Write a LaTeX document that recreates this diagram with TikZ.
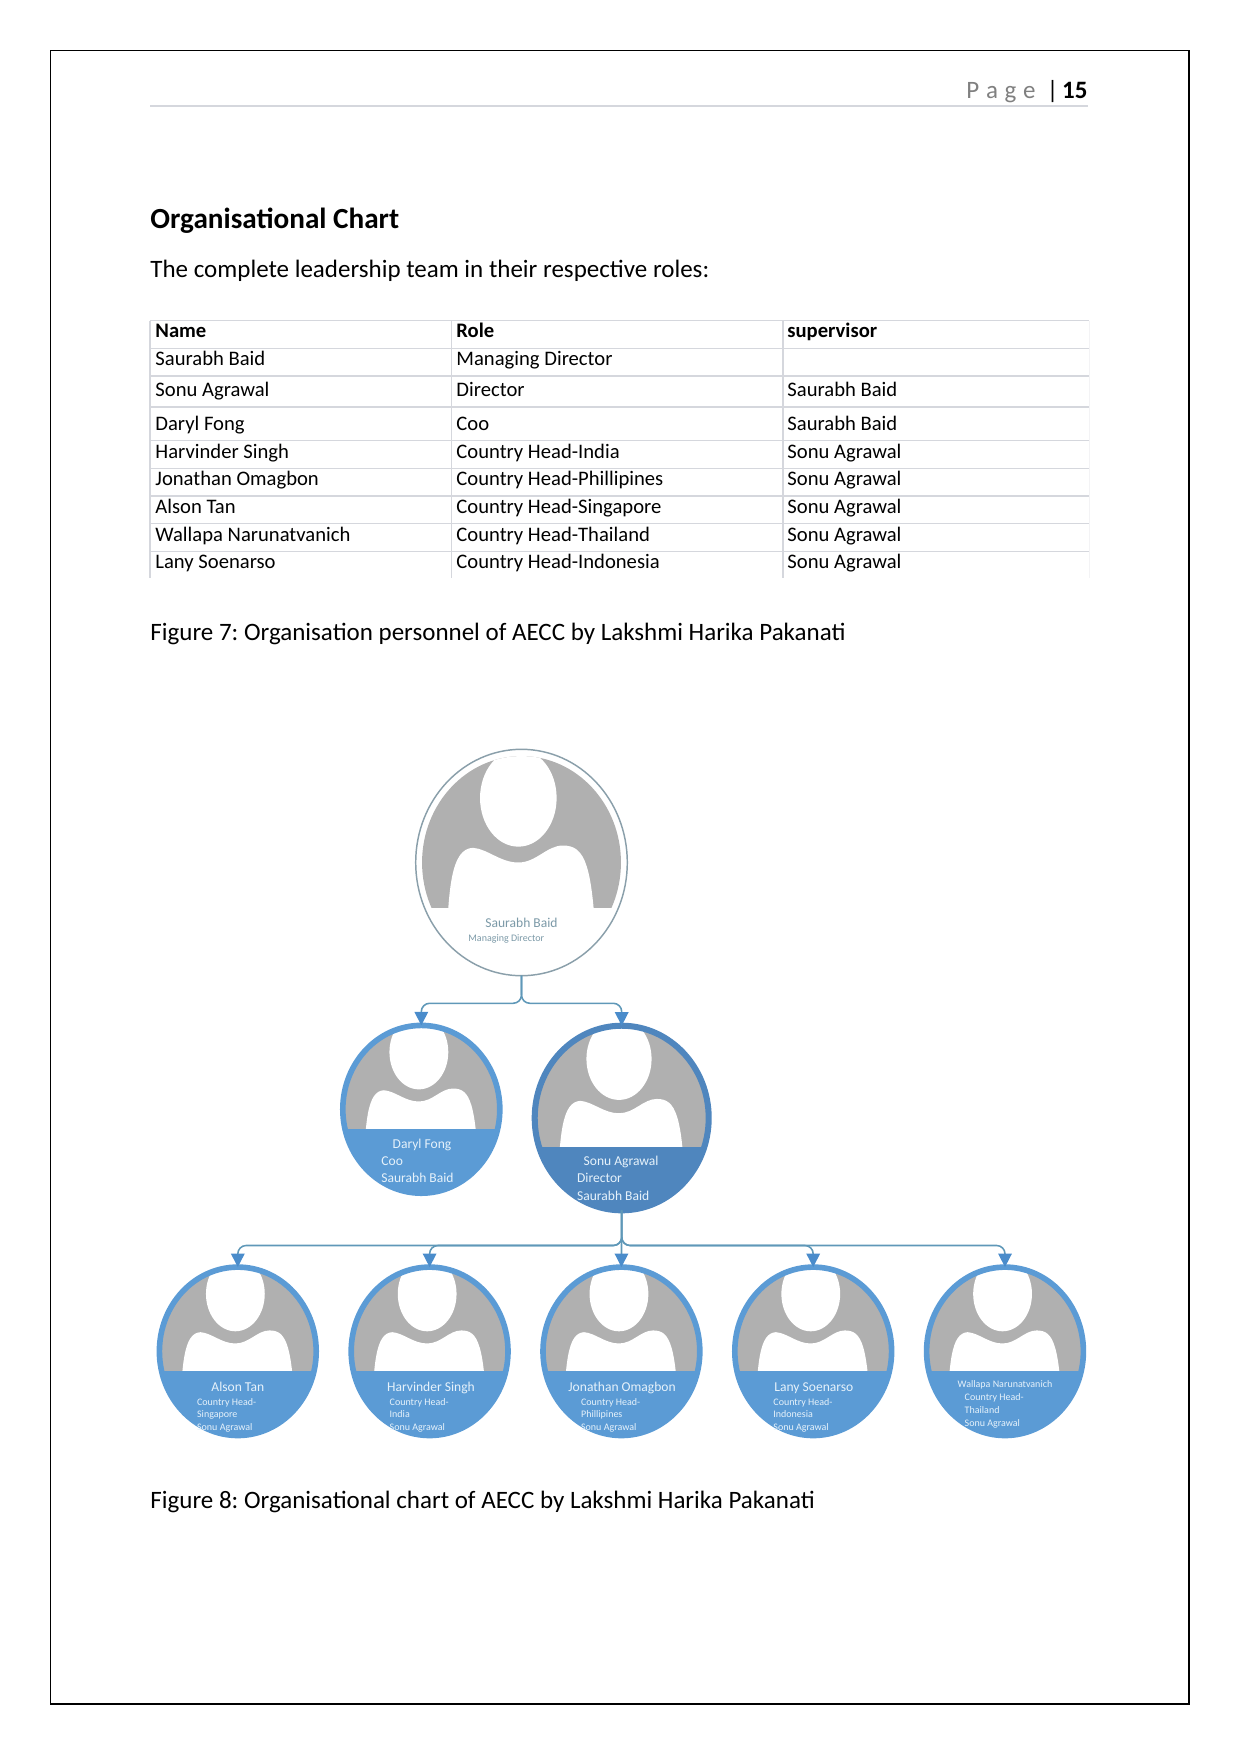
\documentclass[tikz,border=0pt]{standalone}
\usepackage{fontspec}
\setmainfont{Carlito}
\usetikzlibrary{arrows.meta,shapes.geometric}
\definecolor{ringblue}{HTML}{5B9BD5}
\definecolor{ringdark}{HTML}{4F86BE}
\definecolor{ringpale}{HTML}{8A9FAA}
\definecolor{linkblue}{HTML}{5F98B8}
\definecolor{tipblue}{HTML}{4A8CCB}
\definecolor{facegray}{HTML}{B0B0B0}
\definecolor{rulegray}{HTML}{D5D7DD}
\definecolor{labelpale}{HTML}{7C9AA8}
\definecolor{labelwhite}{HTML}{E6F2FB}
\def\px{0.4797pt}
\tikzset{
  person/.style n args={3}{ellipse,draw=#3,outer sep=0pt,inner sep=0pt,minimum width={#1*\px},minimum height={#2*\px}},
  link/.style={draw=linkblue,line width=0.75pt,rounded corners=4pt,-{Triangle[length=6.5pt,width=6.5pt,color=tipblue,fill=tipblue]}},
  cell/.style={anchor=base west,inner sep=0pt,font=\fontsize{9.9}{12}\selectfont},
  cellhead/.style={cell,font=\fontsize{9.9}{12}\selectfont\bfseries},
  rowline/.style={draw=rulegray,line width=0.6pt},
  bodytext/.style={anchor=base west,inner sep=0pt,font=\fontsize{12}{14}\selectfont},
  namebig/.style={anchor=base west,inner sep=0pt,text=labelwhite,font=\fontsize{6.5}{8}\selectfont},
  namesmall/.style={anchor=base west,inner sep=0pt,text=labelwhite,font=\fontsize{4.8}{6}\selectfont}
}
% head and shoulders inside a person ellipse: centre, radii, inset, lift, band level, band colour
\newcommand{\personface}[8]{
  \begin{scope}[shift={(#1,#2)},xscale=#3,yscale=#4]
    \begin{scope}
      \clip (0,0) circle[radius=#5];
      \clip (-2,-2) rectangle (2,#7);
      \fill[facegray] (-2,-2) rectangle (2,2);
      \fill[white] (-0.03,-0.57+#6) ellipse[x radius=0.362,y radius=0.43];
      \fill[white] (-0.71,0.9) .. controls (-0.70,0.2+#6) and (-0.66,-0.12+#6) .. (-0.46,-0.13+#6)
        .. controls (-0.32,-0.12+#6) and (-0.2,0+#6) .. (-0.03,0+#6)
        .. controls (0.14,0+#6) and (0.24,-0.15+#6) .. (0.39,-0.15+#6)
        .. controls (0.6,-0.15+#6) and (0.68,0+#6) .. (0.71,0.9) -- cycle;
    \end{scope}
    \begin{scope}
      \clip (0,0) circle[radius=0.98];
      \fill[#8] (-2,#7) rectangle (2,2);
    \end{scope}
  \end{scope}
}
\begin{document}
\frenchspacing
\begin{tikzpicture}[x=0.4797pt,y=-0.4797pt]
  \useasboundingbox (0,0) rectangle (1241,1754);
  \draw[black,line width=0.7pt] (50.5,50.5) rectangle (1189,1704);

  % running head
  \node[anchor=base east,inner sep=0pt,text=gray,font=\fontsize{12}{14}\selectfont] (pageword) at (1036,99) {P\hspace{3.2pt}a\hspace{3.2pt}g\hspace{3.2pt}e};
  \node[anchor=base,inner sep=0pt,font=\fontsize{12}{14}\selectfont] (pagebar) at (1052.7,99) {|};
  \node[anchor=base east,inner sep=0pt,font=\fontsize{12}{14}\selectfont\bfseries] (pagenum) at (1088,99) {15};
  \draw[rulegray,line width=0.5pt] (150,106) -- (1088,106);

  \node[bodytext,font=\fontsize{14}{16}\selectfont\bfseries] (heading) at (150,228) {Organisational Chart};
  \node[bodytext] (intro) at (150,277) {The complete leadership team in their respective roles:};

  % table rules
  \foreach \yy/\wd in {320.7/0.6,348.3/0.6,376/1.1,407.3/1.1,440.3/0.6,468.3/0.6,495.7/1.1,523.3/0.6,551.3/0.6}
    \draw[rowline,line width=\wd pt] (150,\yy) -- (1089,\yy);
  \foreach \xx in {150,451.5,783}
    \draw[rowline,line width=0.8pt] (\xx,320.7) -- (\xx,578);
  \draw[rulegray!30,line width=0.6pt] (1089.3,320.7) -- (1089.3,578);

  \node[cellhead] (nameh) at (155,337.2) {Name};
  \node[cellhead] (roleh) at (456,337.2) {Role};
  \node[cellhead] (suph) at (787,337.2) {supervisor};
  \foreach \yy/\who/\job/\boss in {
    365.5/Saurabh Baid/Managing Director/,
    396.5/Sonu Agrawal/Director/Saurabh Baid,
    430.5/Daryl Fong/Coo/Saurabh Baid,
    458/Harvinder Singh/Country Head-India/Sonu Agrawal,
    485.5/Jonathan Omagbon/Country Head-Phillipines/Sonu Agrawal,
    513.5/Alson Tan/Country Head-Singapore/Sonu Agrawal,
    541/Wallapa Narunatvanich/Country Head-Thailand/Sonu Agrawal,
    568/Lany Soenarso/Country Head-Indonesia/Sonu Agrawal}{
    \node[cell] (who\yy) at (155,\yy) {\who};
    \node[cell] (job\yy) at (456,\yy) {\job};
    \node[cell] (boss\yy) at (787,\yy) {\boss};
  }

  \node[bodytext] (figseven) at (150,640) {Figure 7: Organisation personnel of AECC by Lakshmi Harika Pakanati};

  % chart
  \personface{521.5}{862.5}{105.8}{113.2}{0.94}{0}{0.40}{white}
  \node[person={211.6}{226.4}{ringpale},line width=0.7pt] (saurabh) at (521.5,862.5) {};
  \personface{421.3}{1109.3}{81.3}{86.7}{0.97}{-0.09}{0.227}{ringblue}
  \node[person={157}{167.8}{ringblue},line width=2.7pt] (daryl) at (421.3,1109.3) {};
  \personface{621.7}{1118}{90}{95.3}{0.97}{-0.05}{0.30}{ringdark}
  \node[person={174}{184.6}{ringdark},line width=2.9pt] (sonu) at (621.7,1118) {};
  \foreach \nm/\xx in {alson/237.8,harvinder/429.6,jonathan/621.4,lany/813.2,wallapa/1005}{
    \personface{\xx}{1351.3}{81.2}{87}{0.97}{-0.09}{0.226}{ringblue}
    \node[person={156.8}{168.4}{ringblue},line width=2.7pt] (\nm) at (\xx,1351.3) {};
  }

  \coordinate (topfork) at (521.5,1003.3);
  \coordinate (lowfork) at (621.7,1245.5);
  \draw[link] (saurabh.south) -- (topfork) -| (daryl.north);
  \draw[link] (saurabh.south) -- (topfork) -| (sonu.north);
  \foreach \nm in {alson,harvinder,lany,wallapa}
    \draw[link] (sonu.south) -- (lowfork) -| (\nm.north);
  \draw[link] (sonu.south) -- (jonathan.north);

  % labels inside the ellipses
  \node[namebig,text=labelpale] (t1) at (485,927) {Saurabh Baid};
  \node[namesmall,text=labelpale] (t2) at (468,941.7) {Managing Director};

  \node[namebig] (t3) at (392.3,1148) {Daryl Fong};
  \node[namebig] (t4) at (381,1165.7) {Coo};
  \node[namebig] (t5) at (381,1182.7) {Saurabh Baid};

  \node[namebig] (t6) at (583.3,1165.7) {Sonu Agrawal};
  \node[namebig] (t7) at (576.7,1182.7) {Director};
  \node[namebig] (t8) at (576.7,1200) {Saurabh Baid};

  \foreach \lab/\xa/\xb/\who/\place in {
    a/211/196.7/Alson Tan/Singapore,
    h/386.7/389.3/Harvinder Singh/India,
    j/568/580.7/Jonathan Omagbon/Phillipines,
    l/774/773/Lany Soenarso/Indonesia}{
    \node[namebig] (n\lab) at (\xa,1391) {\who};
    \node[namesmall] (c\lab) at (\xb,1405) {Country Head-};
    \node[namesmall] (p\lab) at (\xb,1417.7) {\place};
    \node[namesmall] (s\lab) at (\xb,1430) {Sonu Agrawal};
  }
  \node[namesmall] (nw) at (957.3,1387.3) {Wallapa Narunatvanich};
  \node[namesmall] (cw) at (964.3,1400) {Country Head-};
  \node[namesmall] (pw) at (964.3,1413) {Thailand};
  \node[namesmall] (sw) at (964.3,1426.7) {Sonu Agrawal};

  \node[bodytext] (figeight) at (150,1508) {Figure 8: Organisational chart of AECC by Lakshmi Harika Pakanati};
\end{tikzpicture}
\end{document}
